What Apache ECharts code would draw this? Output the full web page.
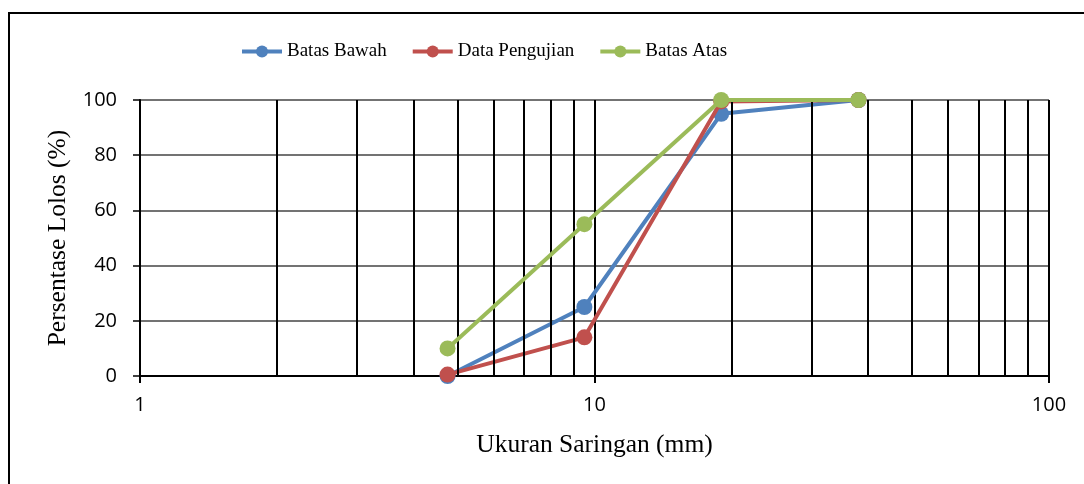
<!DOCTYPE html>
<html>
<head>
<meta charset="utf-8">
<script src="https://cdn.jsdelivr.net/npm/echarts@6/dist/echarts.min.js"></script>
<style>
html, body { margin: 0; padding: 0; background: #fff; }
#chart { width: 1084px; height: 484px; }
</style>
</head>
<body>
<div id="chart"></div>
<script>
var sieveSizes = [4.75, 9.5, 19, 38.1];
var batasBawah = [0, 25, 95, 100];
var dataPengujian = [0.5, 14, 99.5, 100];
var batasAtas = [10, 55, 100, 100];
var minorGridX = [2, 3, 4, 5, 6, 7, 8, 9, 20, 30, 40, 50, 60, 70, 80, 90];

function pairs(ys) {
    return sieveSizes.map(function (x, i) { return [x, ys[i]]; });
}

var serif = '"Liberation Serif", "Times New Roman", serif';
var sans = '"Open Sans", "Liberation Sans", sans-serif';

function dataSeries(name, color, ys, z) {
    return {
        name: name,
        type: 'line',
        data: pairs(ys),
        symbol: 'circle',
        symbolSize: 16,
        itemStyle: { color: color },
        lineStyle: { color: color, width: 4 },
        z: z
    };
}

var option = {
    backgroundColor: '#fff',
    animation: false,
    graphic: [{
        type: 'polyline',
        shape: { points: [[9, 484], [9, 13], [1084, 13]] },
        style: { stroke: '#000', lineWidth: 2, fill: null }
    }],
    legend: {
        top: 37,
        left: 235,
        itemWidth: 40,
        itemHeight: 15,
        itemGap: 24,
        lineStyle: { width: 4 },
        textStyle: { fontFamily: serif, fontSize: 19, color: '#000' },
        data: ['Batas Bawah', 'Data Pengujian', 'Batas Atas']
    },
    grid: {
        left: 140,
        right: 35,
        top: 100,
        bottom: 108
    },
    xAxis: {
        type: 'log',
        logBase: 10,
        min: 1,
        max: 100,
        name: 'Ukuran Saringan (mm)',
        nameLocation: 'middle',
        nameGap: 56,
        nameTextStyle: { fontFamily: serif, fontSize: 25.5, color: '#000' },
        axisLine: { lineStyle: { color: '#000', width: 2 } },
        axisTick: { show: true, length: 7, lineStyle: { color: '#000', width: 2 } },
        axisLabel: { fontFamily: sans, fontSize: 20, color: '#000', margin: 19 },
        splitLine: { show: true, lineStyle: { color: '#000', width: 2 } }
    },
    yAxis: {
        type: 'value',
        min: 0,
        max: 100,
        interval: 20,
        name: 'Persentase Lolos (%)',
        nameLocation: 'middle',
        nameGap: 64,
        nameTextStyle: { fontFamily: serif, fontSize: 25.5, color: '#000' },
        axisLine: { show: true, lineStyle: { color: '#000', width: 2 } },
        axisTick: { show: true, length: 7, lineStyle: { color: '#000', width: 1.5 } },
        axisLabel: { fontFamily: sans, fontSize: 20, color: '#000', margin: 23 },
        splitLine: { show: true, lineStyle: { color: '#444', width: 1.5 } }
    },
    series: [
        {
            name: 'grid-minor',
            type: 'line',
            data: [],
            silent: true,
            markLine: {
                silent: true,
                symbol: 'none',
                label: { show: false },
                lineStyle: { color: '#000', width: 2, type: 'solid' },
                data: minorGridX.map(function (v) { return { xAxis: v }; })
            }
        },
        dataSeries('Batas Bawah', '#4f81bd', batasBawah, 3),
        dataSeries('Data Pengujian', '#c0504d', dataPengujian, 4),
        dataSeries('Batas Atas', '#9bbb59', batasAtas, 5)
    ]
};

var myChart = echarts.init(document.getElementById('chart'));
myChart.setOption(option);
</script>
</body>
</html>
